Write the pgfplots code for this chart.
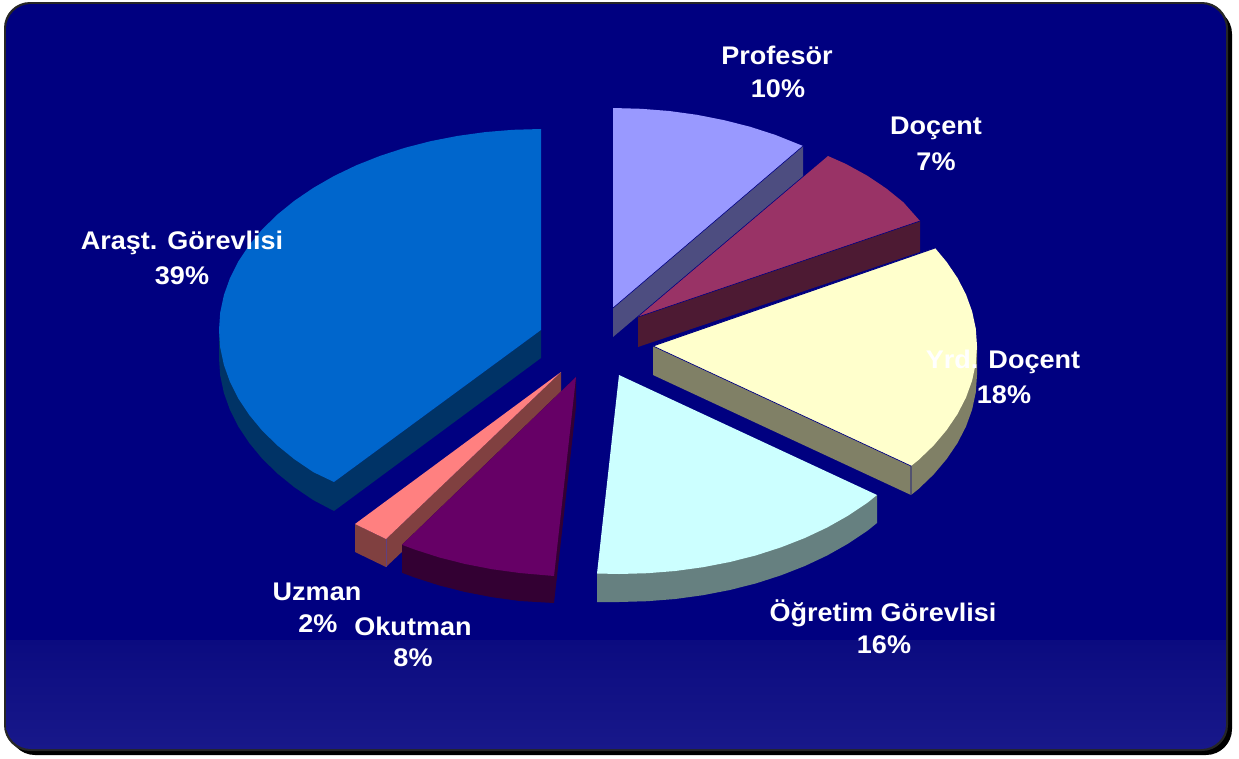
\documentclass[border=0pt]{standalone}
\usepackage{pgfplots}
\pgfplotsset{compat=1.18}
\usepackage{fontspec}
\setmainfont{Liberation Sans}
\newfontfamily\lf[FakeStretch=1.06]{Liberation Sans}
\definecolor{bgnavy}{HTML}{000080}
\definecolor{bandtop}{HTML}{0B0B80}
\definecolor{bandbot}{HTML}{18188A}
\newcommand{\labelfont}{\lf\fontsize{25.5}{28}\bfseries\selectfont}
\newcommand{\lab}[3]{%
  \node[text=white,font=\labelfont,anchor=center,inner sep=0pt] at (axis cs:#1,#2) {#3};}
\begin{document}
\begin{tikzpicture}
\begin{axis}[
  scale only axis, width=1239pt, height=758pt,
  xmin=0, xmax=1239, ymin=0, ymax=758, y dir=reverse,
  hide axis, clip=false,
]
\path (axis cs:0,0) rectangle (axis cs:1239,758);
% --- panel ---
\fill[black,rounded corners=26pt] (axis cs:9,8) rectangle (axis cs:1232,755);
\fill[black!85,rounded corners=26pt] (axis cs:4,2) rectangle (axis cs:1228,751);
\begin{scope}
\clip[rounded corners=25pt] (axis cs:6,4) rectangle (axis cs:1226,749);
\fill[bgnavy] (axis cs:6,4) rectangle (axis cs:1226,640);
\shade[top color=bandtop,bottom color=bandbot] (axis cs:6,640) rectangle (axis cs:1226,749);
\end{scope}
% --- Arastirma Gorevlisi ---
\addplot[fill={rgb,255:red,0;green,51;blue,102},draw=none] coordinates {
 (219,330)(219,358)(220.2,375.5)(223.9,392.9)(230,410)(238.4,426.7)(249.2,442.9)(262.1,458.5)(277.2,473.3)(294.3,487.2)(313.3,500.1)(334,511)(541,358)(541,330)(334,482)} --cycle;
\addplot[fill={rgb,255:red,0;green,102;blue,204},draw=none] coordinates {
 (541,330)(541,129)(512.9,129.8)(485.1,132.1)(457.7,135.9)(430.9,141.1)(404.9,147.8)(380,155.9)(356.3,165.3)(334,176)(313.3,187.9)(294.3,200.8)(277.2,214.7)(262.1,229.5)(249.2,245.1)(238.4,261.3)(230,278)(223.9,295.1)(220.2,312.5)(219,330)(220.2,347.5)(223.9,364.9)(230,382)(238.4,398.7)(249.2,414.9)(262.1,430.5)(277.2,445.3)(294.3,459.2)(313.3,472.1)(334,482)} --cycle;
% --- Uzman ---
\addplot[fill={rgb,255:red,128;green,64;blue,64},draw=none] coordinates {(561,372)(561,401)(386,567)(355,552)(355,524)(386,539)} --cycle;
\addplot[fill={rgb,255:red,255;green,128;blue,128},draw=none] coordinates {(561,372)(355,524)(386,539)} --cycle;
\addplot[draw={rgb,255:red,96;green,64;blue,128},line width=0.6pt] coordinates {(386,539)(386,567)};
% --- Okutman ---
\addplot[fill={rgb,255:red,51;green,0;blue,51},draw=none] coordinates {(576,377)(576,407)(554,603)(519.8,601)(492.1,597.2)(465.2,592)(439.1,585.4)(414,577.3)(402,572.8)(402,544.8)} --cycle;
\addplot[fill={rgb,255:red,102;green,0;blue,102},draw=none] coordinates {(576,377)(402,544.8)(414,549.3)(439.1,557.4)(465.2,564)(492.1,569.2)(519.8,573)(554,576)} --cycle;
% --- Ogretim Gorevlisi ---
\addplot[fill={rgb,255:red,102;green,128;blue,128},draw=none] coordinates {(877,495)(877,523)(867.2,530.9)(848,543.7)(827.3,555.4)(804.8,566)(781,575.3)(755.9,583.4)(729.8,590)(702.9,595.2)(675.2,599)(647.2,601.2)(619,602)(597,602)(597,573.5)} --cycle;
\addplot[fill={rgb,255:red,204;green,255;blue,255},draw=none] coordinates {(619,375)(877,495)(867.2,502.9)(848,515.7)(827.3,527.4)(804.8,538)(781,547.3)(755.9,555.4)(729.8,562)(702.9,567.2)(675.2,571)(647.2,573.2)(619,574)(597,573.5)} --cycle;
% --- Yrd. Docent ---
\addplot[fill={rgb,255:red,128;green,128;blue,102},draw=none] coordinates {(653,346)(653,375)(911,495)(918.4,489.1)(933.6,474.5)(946.6,459.1)(957.5,443)(966,426.5)(972.1,409.6)(975.8,392.3)(977,375)(977,346)(911,466)} --cycle;
\addplot[fill={rgb,255:red,255;green,255;blue,204},draw=none] coordinates {(653,346)(935,248)(946.6,261.9)(957.5,278)(966,294.5)(972.1,311.4)(975.8,328.7)(977,346)(975.8,363.3)(972.1,380.6)(966,397.5)(957.5,414)(946.6,430.1)(933.6,445.5)(918.4,460.1)(911,466)} --cycle;
\addplot[draw=bgnavy,line width=0.7pt] coordinates {(653,346)(911,466)(911,495)};
\addplot[draw=bgnavy,line width=0.9pt] coordinates {(653,346)(935,248)};
% --- Profesor ---
\addplot[fill={rgb,255:red,77;green,77;blue,128},draw=none] coordinates {(613,308)(803,146)(803,176)(613,337)} --cycle;
\addplot[fill={rgb,255:red,153;green,153;blue,255},draw=none] coordinates {(613,308)(613,108)(641.2,108.8)(669.3,111)(696.9,114.8)(723.8,120.1)(749.9,126.7)(775,134.8)(803,146)} --cycle;
\addplot[draw=bgnavy,line width=0.6pt] coordinates {(613,308)(803,146)};
% --- Docent ---
\addplot[fill={rgb,255:red,77;green,26;blue,51},draw=none] coordinates {(638,317)(920,221)(920,252)(638,347)} --cycle;
\addplot[fill={rgb,255:red,153;green,51;blue,102},draw=none] coordinates {(638,317)(828,156)(846,164)(867.1,175.6)(886.2,188.4)(903.4,202.3)(920,221)} --cycle;
\addplot[draw=bgnavy,line width=0.6pt] coordinates {(638,317)(920,221)};
% --- labels ---
\lab{777}{55.5}{Profesör}
\lab{778}{89}{10\%}
\lab{936}{128.5}{Doçent}
\lab{936}{162}{7\%}
\lab{1003}{362}{Yrd. Doçent}
\lab{1004}{395}{18\%}
\lab{883}{613}{Öğretim Görevlisi}
\lab{884}{645}{16\%}
\lab{413}{626}{Okutman}
\lab{413}{658}{8\%}
\lab{317}{592}{Uzman}
\lab{318}{624}{2\%}
\lab{182}{243}{Araşt. Görevlisi}
\lab{182}{276}{39\%}
\end{axis}
\end{tikzpicture}
\end{document}
